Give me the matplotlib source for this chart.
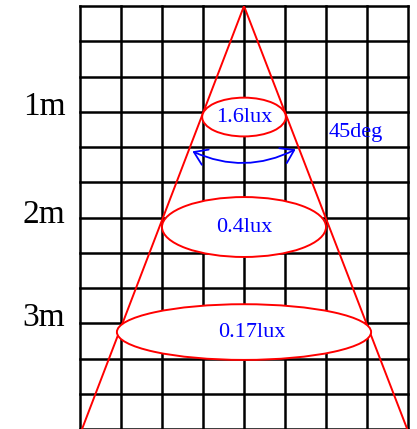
import matplotlib.pyplot as plt
from matplotlib.patches import Ellipse, FancyArrowPatch

# grid is 8 columns x 12 rows, lamp at top centre
n_cols = 8
n_rows = 12
apex = (4, 0)
cone_bottom = [0.05, 7.98]

dist_labels = ["1m", "2m", "3m"]
dist_rows = [3.0, 6.07, 9.0]
lux_labels = ["1.6lux", "0.4lux", "0.17lux"]
ell_center_rows = [3.15, 6.27, 9.25]
ell_half_w = [1.02, 2.0, 3.1]
ell_half_h = [0.55, 0.85, 0.79]
lux_x = [4.0, 4.0, 4.2]
angle_label = "45deg"

plt.rcParams['font.family'] = ['Liberation Serif', 'DejaVu Serif']

fig = plt.figure(figsize=(4.17, 4.29), dpi=100)
ax = fig.add_axes([80 / 417, 0, 328 / 417, 423 / 429])
ax.set_xlim(0, n_cols)
ax.set_ylim(n_rows, 0)
ax.axis('off')

for i in range(n_cols + 1):
    ax.plot([i, i], [0, n_rows], color='black', lw=1.8, clip_on=False, zorder=1)
for j in range(n_rows + 1):
    ax.plot([0, n_cols], [j, j], color='black', lw=1.8, clip_on=False, zorder=1)

# cone
for xb in cone_bottom:
    ax.plot([apex[0], xb], [apex[1], n_rows], color='red', lw=1.4, zorder=3)

for cy, hw, hh, lab, lx in zip(ell_center_rows, ell_half_w, ell_half_h, lux_labels, lux_x):
    ax.add_patch(Ellipse((4, cy), 2 * hw, 2 * hh, facecolor='white',
                         edgecolor='red', lw=1.4, zorder=4))
    ax.text(lx, cy, lab, color='blue', fontsize=16, ha='center', va='center', zorder=5)

for lab, r in zip(dist_labels, dist_rows):
    fig.text(44 / 417, 1 - (6 + r * 35.25 - 5) / 429, lab, fontsize=24,
             ha='center', va='center')

arr = FancyArrowPatch((2.68, 4.09), (5.32, 4.03), arrowstyle='<->,head_length=6,head_width=4',
                      connectionstyle='arc3,rad=0.25', color='blue', lw=1.3,
                      mutation_scale=1.5, zorder=6)
ax.add_patch(arr)
ax.text(6.73, 3.6, angle_label, color='blue', fontsize=16, ha='center', va='center', zorder=5)

fig.savefig('out.png', dpi=100)
